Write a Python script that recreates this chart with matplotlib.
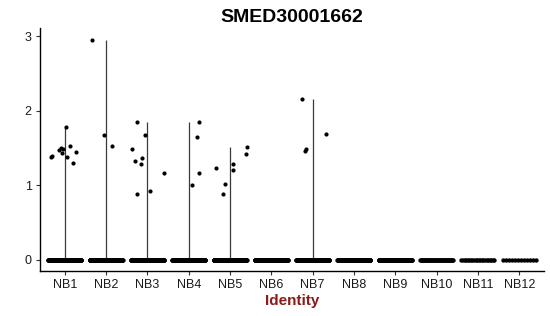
import numpy as np
import matplotlib
matplotlib.use("Agg")
import matplotlib.pyplot as plt

plt.rcParams['font.family'] = ['Liberation Sans', 'DejaVu Sans']

categories = ["NB1", "NB2", "NB3", "NB4", "NB5", "NB6",
              "NB7", "NB8", "NB9", "NB10", "NB11", "NB12"]

# non-zero expression values per identity
nb1_vals = [1.385, 1.39, 1.475, 1.50, 1.49, 1.43, 1.78, 1.375, 1.53, 1.295, 1.44]
nb2_vals = [2.95, 1.68, 1.53]
nb3_vals = [1.49, 1.85, 1.33, 0.88, 1.36, 1.29, 1.68, 0.92, 1.16]
nb4_vals = [1.01, 1.65, 1.85, 1.17]
nb5_vals = [1.23, 1.02, 0.88, 1.28, 1.21, 1.42, 1.52]
nb6_vals = []
nb7_vals = [2.155, 1.465, 1.49, 1.69]
nb8_vals = []
nb9_vals = []
nb10_vals = []
nb11_vals = []
nb12_vals = []

# horizontal jitter of the non-zero points (fraction of category spacing)
nb1_jit = [-0.34, -0.30, -0.13, -0.08, -0.04, -0.07, 0.04, 0.06, 0.13, 0.19, 0.28]
nb2_jit = [-0.33, -0.05, 0.14]
nb3_jit = [-0.38, -0.26, -0.29, -0.25, -0.13, -0.16, -0.07, 0.07, 0.40]
nb4_jit = [0.07, 0.20, 0.26, 0.26]
nb5_jit = [-0.33, -0.12, -0.17, 0.07, 0.08, 0.38, 0.41]
nb6_jit = []
nb7_jit = [-0.27, -0.18, -0.15, 0.32]
empty_jit = []

# number of cells with zero expression per identity
zero_counts = [160, 160, 160, 160, 160, 160, 160, 160, 160, 45, 22, 12]

values = [nb1_vals, nb2_vals, nb3_vals, nb4_vals, nb5_vals, nb6_vals,
          nb7_vals, nb8_vals, nb9_vals, nb10_vals, nb11_vals, nb12_vals]
jitters = [nb1_jit, nb2_jit, nb3_jit, nb4_jit, nb5_jit, nb6_jit,
           nb7_jit, empty_jit, empty_jit, empty_jit, empty_jit, empty_jit]

fig = plt.figure(figsize=(5.5, 3.16), dpi=100)
ax = fig.add_axes([40/550, (316-271)/316, 504/550, (271-28)/316])

for i, (vals, jit, nz) in enumerate(zip(values, jitters, zero_counts)):
    pos = i + 1
    if len(vals) > 0:
        ax.vlines(pos, 0, max(vals), color="#3a3a3a", linewidth=0.9, zorder=1)
        ax.scatter(pos + np.array(jit), vals, s=9, color="black",
                   linewidths=0, zorder=3)
    zx = pos + np.linspace(-0.4, 0.4, nz)
    ax.scatter(zx, np.zeros(nz), s=10, color="black", linewidths=0, zorder=3)

ax.set_xlim(0.4, 12.6)
ax.set_ylim(-0.148, 3.108)
ax.set_xticks(range(1, len(categories) + 1))
ax.set_xticklabels(categories)
ax.set_yticks([0, 1, 2, 3])
for s in ["top", "right"]:
    ax.spines[s].set_visible(False)
for s in ["left", "bottom"]:
    ax.spines[s].set_linewidth(1.0)
    ax.spines[s].set_color("black")
ax.tick_params(axis="both", length=3, width=0.8, color="#333333",
               labelsize=9, labelcolor="#1a1a1a", pad=3)
ax.set_xlabel("Identity", fontsize=11, fontweight="bold", color="#8B1A1A", labelpad=2)
ax.set_title("SMED30001662", fontsize=14, fontweight="bold", pad=4)

fig.savefig("out.png", dpi=100)
